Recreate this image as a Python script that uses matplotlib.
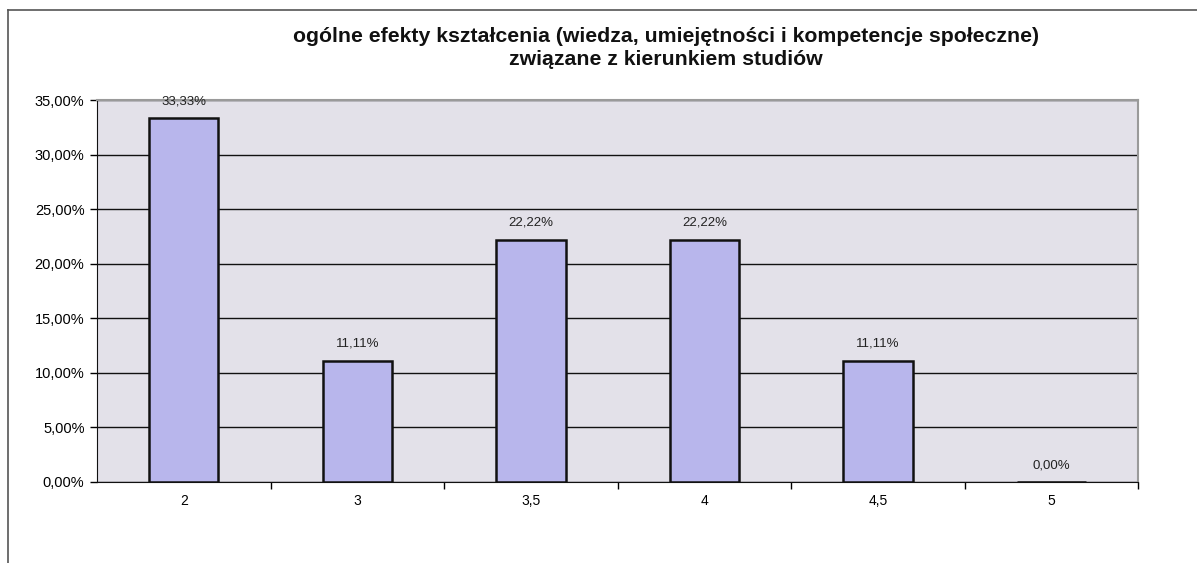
import matplotlib.pyplot as plt
from matplotlib.lines import Line2D
from matplotlib.ticker import FuncFormatter, FixedLocator

plt.rcParams['font.family'] = ['Liberation Sans', 'DejaVu Sans']

# data
categories = ['2', '3', '3,5', '4', '4,5', '5']
values = [33.33, 11.11, 22.22, 22.22, 11.11, 0.00]
title = ('ogólne efekty kształcenia (wiedza, umiejętności i kompetencje społeczne)\n'
         'związane z kierunkiem studiów')


def pct(v, pos=None):
    return f'{v:.2f}%'.replace('.', ',')


fig = plt.figure(figsize=(11.97, 5.63), dpi=100)
ax = fig.add_axes([0.081, 0.144, 0.870, 0.678])
ax.set_facecolor('#E3E1E9')

x = list(range(len(categories)))
ax.bar(x, values, width=0.4, color='#B8B6EC', edgecolor='#111111', linewidth=1.8, zorder=3)

for xi, v in zip(x, values):
    ax.text(xi, v + 1.0, pct(v), ha='center', va='bottom', fontsize=9.5, color='#222222')

ax.set_xlim(-0.5, len(categories) - 0.5)
ax.set_ylim(0, 35)
ax.set_yticks([0, 5, 10, 15, 20, 25, 30, 35])
ax.yaxis.set_major_formatter(FuncFormatter(pct))
ax.yaxis.grid(True, color='#111111', linewidth=1.0, zorder=1)
ax.set_axisbelow(True)

ax.set_xticks(x)
ax.set_xticklabels(categories)
ax.xaxis.set_minor_locator(FixedLocator([i + 0.5 for i in range(len(categories))]))
ax.tick_params(axis='x', which='major', length=0, pad=9, labelsize=10)
ax.tick_params(axis='x', which='minor', length=5, width=1, direction='out')
ax.tick_params(axis='y', length=5, width=1, direction='out', labelsize=10.5, pad=4)

ax.spines['left'].set_color('#111111')
ax.spines['bottom'].set_color('#111111')
ax.spines['top'].set_color('#9A9A9A')
ax.spines['right'].set_color('#9A9A9A')
ax.spines['top'].set_linewidth(1.5)
ax.spines['right'].set_linewidth(1.5)

fig.text(0.556, 0.915, title, ha='center', va='center', fontsize=15.3,
         fontweight='bold', linespacing=1.28, color='#111111')

# outer chart frame (top and left edges visible)
fig.add_artist(Line2D([8 / 1197, 1], [1 - 10 / 563, 1 - 10 / 563], color='#555555', linewidth=1.2))
fig.add_artist(Line2D([8 / 1197, 8 / 1197], [0, 1 - 10 / 563], color='#555555', linewidth=1.2))

fig.savefig('out.png', dpi=100)
